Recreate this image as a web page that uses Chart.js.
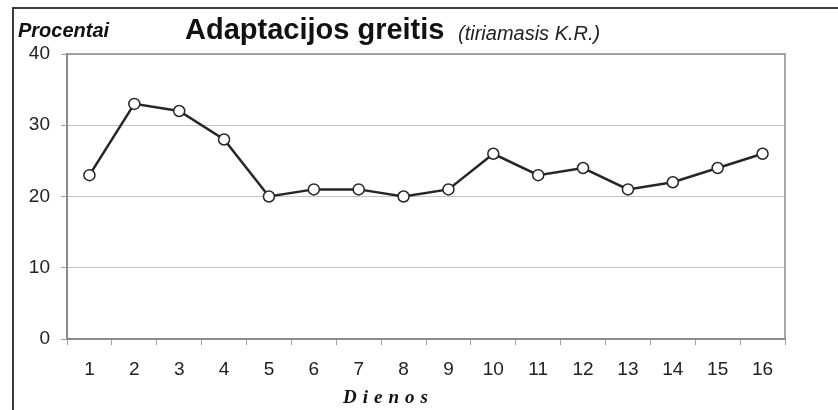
<!DOCTYPE html>
<html>
<head>
<meta charset="utf-8">
<script src="https://cdn.jsdelivr.net/npm/chart.js@4.4.1/dist/chart.umd.min.js"></script>
<style>
  html, body { margin: 0; padding: 0; background: #fff; }
  #wrap { position: relative; width: 838px; height: 410px; overflow: hidden; }
  #frame { position: absolute; left: 12px; top: 7px; width: 900px; height: 500px;
    border-top: 2px solid #3c3c3c; border-left: 2px solid #3c3c3c; }
  canvas { position: absolute; left: 0; top: 0; }
  .txt { position: absolute; white-space: nowrap; color: #111; }
  #ylab { left: 18px; top: 19px; font: italic bold 20px "Liberation Sans", Arial, sans-serif; }
  #title { left: 185px; top: 13px; font: bold 29px "Liberation Sans", Arial, sans-serif; }
  #sub { left: 458px; top: 22px; font: italic 20px "Liberation Sans", Arial, sans-serif; color: #222; }
  #xlab { left: 343px; top: 386px; font: italic bold 19px "Liberation Serif", "Times New Roman", serif; letter-spacing: 6px; }
</style>
</head>
<body>
<div id="wrap">
  <div id="frame"></div>
  <canvas id="myChart" width="838" height="410"></canvas>
  <div class="txt" id="ylab">Procentai</div>
  <div class="txt" id="title">Adaptacijos greitis</div>
  <div class="txt" id="sub">(tiriamasis K.R.)</div>
  <div class="txt" id="xlab">Dienos</div>
</div>
<script>
'use strict';

let days = ['1', '2', '3', '4', '5', '6', '7', '8', '9', '10', '11', '12', '13', '14', '15', '16'];
let speed = [23, 33, 32, 28, 20, 21, 21, 20, 21, 26, 23, 24, 21, 22, 24, 26];
let yTicks = [0, 10, 20, 30, 40];

// plot area outline (top + right edges)
const plotBox = {
  id: 'plotBox',
  beforeDatasetsDraw( chart ) {
    const a = chart.chartArea;
    const ctx = chart.ctx;
    ctx.save();
    ctx.strokeStyle = '#8c8c8c';
    ctx.lineWidth = 1.5;
    ctx.beginPath();
    ctx.moveTo( a.left, a.top );
    ctx.lineTo( a.right, a.top );
    ctx.lineTo( a.right, a.bottom );
    ctx.stroke();
    ctx.restore();
  }
};

let ctx = document.getElementById( 'myChart' ).getContext( '2d' );
let myChart = new Chart( ctx, {
  type: 'line',
  data: {
    labels: days,
    datasets: [{
      data: speed,
      borderColor: '#262626',
      borderWidth: 2.5,
      tension: 0,
      pointRadius: 5.5,
      pointHoverRadius: 5.5,
      pointBackgroundColor: '#ffffff',
      pointBorderColor: '#262626',
      pointBorderWidth: 1.5
    }]
  },
  options: {
    responsive: false,
    animation: false,
    devicePixelRatio: 1,
    layout: { padding: { left: 27, top: 54, right: 53, bottom: 31 } },
    plugins: { legend: { display: false }, tooltip: { enabled: false } },
    scales: {
      x: {
        offset: true,
        afterFit( scale ) { scale.height = 40; },
        grid: { offset: true, drawOnChartArea: false, color: '#a0a0a0', tickLength: 6, lineWidth: 1 },
        border: { color: '#8c8c8c', width: 2 },
        ticks: { color: '#222', padding: 13, font: { family: 'Liberation Sans', size: 19 } }
      },
      y: {
        min: 0,
        max: 40,
        afterFit( scale ) { scale.width = 40; },
        afterBuildTicks( scale ) { scale.ticks = yTicks.map( v => ( { value: v } ) ); },
        grid: { color: '#c4c4c4', lineWidth: 1, tickLength: 6, tickColor: '#a0a0a0' },
        border: { color: '#8c8c8c', width: 2 },
        ticks: { color: '#222', padding: 11, font: { family: 'Liberation Sans', size: 19 } }
      }
    }
  },
  plugins: [plotBox]
} );
</script>
</body>
</html>
